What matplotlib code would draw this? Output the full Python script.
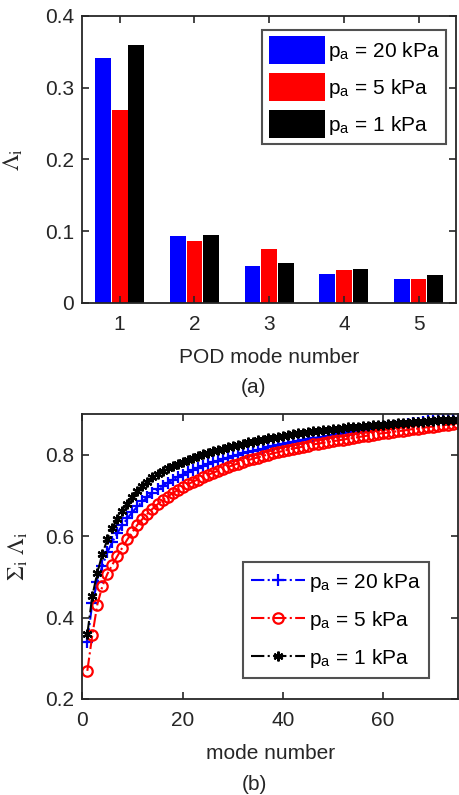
import numpy as np
import matplotlib
matplotlib.use("Agg")
import matplotlib.pyplot as plt

plt.rcParams['font.family'] = ['Liberation Sans', 'DejaVu Sans']
plt.rcParams['mathtext.fontset'] = 'stix'

# (a) POD eigenvalues, first five modes
modes = [1, 2, 3, 4, 5]
lam_20 = [0.341, 0.094, 0.051, 0.040, 0.033]
lam_5 = [0.269, 0.087, 0.075, 0.046, 0.034]
lam_1 = [0.359, 0.095, 0.056, 0.048, 0.039]

# (b) cumulative energy, modes 1..75
cum_20 = [0.341, 0.436, 0.487, 0.527, 0.560, 0.586, 0.608, 0.627, 0.644, 0.659,
          0.673, 0.685, 0.696, 0.706, 0.715, 0.724, 0.731, 0.738, 0.745, 0.751,
          0.757, 0.762, 0.767, 0.772, 0.777, 0.781, 0.785, 0.789, 0.793, 0.796,
          0.800, 0.803, 0.806, 0.809, 0.812, 0.815, 0.818, 0.821, 0.823, 0.826,
          0.828, 0.831, 0.833, 0.835, 0.838, 0.840, 0.842, 0.844, 0.846, 0.849,
          0.851, 0.853, 0.855, 0.857, 0.859, 0.861, 0.863, 0.865, 0.867, 0.868,
          0.870, 0.871, 0.873, 0.874, 0.876, 0.877, 0.879, 0.880, 0.882, 0.883,
          0.884, 0.886, 0.887, 0.888, 0.890]
cum_5 = [0.269, 0.357, 0.432, 0.477, 0.507, 0.530, 0.551, 0.572, 0.592, 0.610,
         0.628, 0.642, 0.655, 0.667, 0.678, 0.688, 0.697, 0.705, 0.713, 0.720,
         0.727, 0.733, 0.739, 0.745, 0.750, 0.755, 0.760, 0.765, 0.769, 0.774,
         0.778, 0.782, 0.786, 0.790, 0.793, 0.797, 0.800, 0.803, 0.806, 0.809,
         0.812, 0.815, 0.817, 0.820, 0.822, 0.825, 0.827, 0.829, 0.831, 0.833,
         0.835, 0.837, 0.839, 0.841, 0.843, 0.845, 0.847, 0.849, 0.851, 0.853,
         0.854, 0.856, 0.858, 0.859, 0.861, 0.863, 0.864, 0.866, 0.868, 0.869,
         0.871, 0.872, 0.874, 0.875, 0.877]
cum_1 = [0.359, 0.453, 0.510, 0.556, 0.592, 0.619, 0.642, 0.662, 0.680, 0.697,
         0.711, 0.723, 0.734, 0.744, 0.753, 0.760, 0.767, 0.773, 0.778, 0.783,
         0.788, 0.793, 0.797, 0.801, 0.805, 0.808, 0.812, 0.815, 0.818, 0.821,
         0.824, 0.827, 0.830, 0.832, 0.835, 0.837, 0.840, 0.842, 0.844, 0.846,
         0.848, 0.850, 0.852, 0.854, 0.855, 0.857, 0.858, 0.860, 0.861, 0.863,
         0.864, 0.865, 0.867, 0.868, 0.869, 0.870, 0.871, 0.872, 0.873, 0.874,
         0.875, 0.876, 0.877, 0.878, 0.879, 0.880, 0.881, 0.881, 0.882, 0.883,
         0.884, 0.884, 0.885, 0.886, 0.886]
mode_no = np.arange(1, len(cum_20) + 1)

labels = ['p$_\\mathregular{a}$ = 20 kPa', 'p$_\\mathregular{a}$ = 5 kPa',
          'p$_\\mathregular{a}$ = 1 kPa']

fs = 15
txt_c = '#262626'

fig = plt.figure(figsize=(4.59, 7.95), dpi=100)
ax1 = fig.add_axes([0.1793, 0.6189, 0.8142, 0.3610])
ax2 = fig.add_axes([0.1793, 0.1208, 0.8192, 0.3585])

def style(ax):
    for s in ax.spines.values():
        s.set_color(txt_c)
        s.set_linewidth(1.3)
    ax.tick_params(direction='in', top=True, right=True, labelsize=fs,
                   colors=txt_c, length=5, width=1.2)
    ax.tick_params(axis='x', pad=9)
    ax.tick_params(axis='y', pad=6)

# plot a: bars
x = np.array(modes)
w = 0.21
off = 0.222
ax1.bar(x - off, lam_20, w, color='#0000ff', label=labels[0])
ax1.bar(x, lam_5, w, color='#ff0000', label=labels[1])
ax1.bar(x + off, lam_1, w, color='black', label=labels[2])
ax1.set_xlim(0.5, 5.5)
ax1.set_ylim(0, 0.4)
ax1.set_xticks(modes)
ax1.set_yticks([0, 0.1, 0.2, 0.3, 0.4])
ax1.set_yticklabels(['0', '0.1', '0.2', '0.3', '0.4'])
ax1.set_xlabel('POD mode number', fontsize=fs, color=txt_c, labelpad=10)
ax1.set_ylabel('$\\Lambda_\\mathrm{i}$', fontsize=17, color=txt_c, labelpad=14)
style(ax1)
leg1 = ax1.legend(loc='upper right', bbox_to_anchor=(0.973, 0.951),
                  borderaxespad=0, fontsize=fs, frameon=True, fancybox=False,
                  edgecolor=txt_c, handlelength=2.7, handleheight=1.7,
                  handletextpad=0.15, labelspacing=0.42, borderpad=0.3)
leg1.get_frame().set_linewidth(1.5)

# plot b: cumulative sums
ax2.plot(mode_no, cum_20, '-.', color='#0000ff', marker='+', ms=8, mew=1.6,
         lw=1.5, label=labels[0])
ax2.plot(mode_no, cum_5, '-.', color='#ff0000', marker='o', ms=7.5, mew=1.6,
         mfc='none', lw=1.5, label=labels[1])
ax2.plot(mode_no, cum_1, '-.', color='black', marker=(6, 2, 0), ms=7, mew=1.6,
         lw=1.5, label=labels[2])
ax2.set_xlim(0, 75)
ax2.set_ylim(0.2, 0.9)
ax2.set_xticks([0, 20, 40, 60])
ax2.set_yticks([0.2, 0.4, 0.6, 0.8])
ax2.set_xlabel('mode number', fontsize=fs, color=txt_c, labelpad=10)
ax2.set_ylabel('$\\Sigma_\\mathrm{i}\\ \\Lambda_\\mathrm{i}$', fontsize=17,
               color=txt_c, labelpad=11)
style(ax2)
leg2 = ax2.legend(loc='lower right', bbox_to_anchor=(0.9216, 0.0737),
                  borderaxespad=0, fontsize=fs, frameon=True, fancybox=False,
                  edgecolor=txt_c, handlelength=2.55, handletextpad=0.2,
                  labelspacing=0.72, borderpad=0.4, numpoints=1)
leg2.get_frame().set_linewidth(1.5)

fig.text(0.553, 0.513, '(a)', fontsize=fs, ha='center', va='center', color=txt_c)
fig.text(0.555, 0.013, '(b)', fontsize=fs, ha='center', va='center', color=txt_c)

fig.savefig('out.png', dpi=100)
